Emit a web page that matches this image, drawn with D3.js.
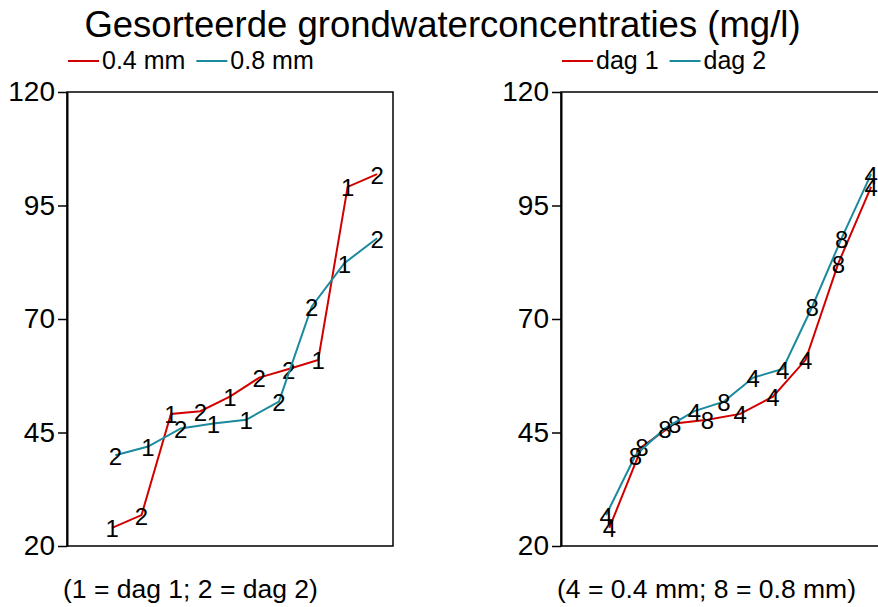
<!DOCTYPE html>
<html>
<head>
<meta charset="utf-8">
<script src="https://cdn.jsdelivr.net/npm/d3@7"></script>
<style>
  body { margin: 0; background: #fff; }
  svg { display: block; font-family: "Liberation Sans", Arial, sans-serif; }
</style>
</head>
<body>
<svg id="chart" width="878" height="607"></svg>
<script>
// sorted concentrations per sieve size, with the day of each sample
const mm04Values = [24.0, 26.8, 49.1, 49.7, 52.9, 57.1, 59.0, 61.0, 99.1, 101.9];
const mm04Days   = [1, 2, 1, 2, 1, 2, 2, 1, 1, 2];
const mm08Values = [40.0, 41.9, 45.9, 47.0, 47.8, 51.8, 72.7, 82.3, 87.8];
const mm08Days   = [2, 1, 2, 1, 1, 2, 2, 1, 2];
const yTicks = [20, 45, 70, 95, 120];

const RED = "#d10000", TEAL = "#1a8a9e";

// right panel: same samples grouped by day, labelled by sieve size
const samples = mm04Values.map((v, i) => ({ v, day: mm04Days[i], mm: 4 }))
  .concat(mm08Values.map((v, i) => ({ v, day: mm08Days[i], mm: 8 })));
const byDay = d => samples.filter(s => s.day === d).sort((a, b) => a.v - b.v);

const leftSeries = [
  { color: RED,  pts: mm04Values.map((v, i) => ({ v, lab: mm04Days[i] })) },
  { color: TEAL, pts: mm08Values.map((v, i) => ({ v, lab: mm08Days[i] })) }
];
const rightSeries = [
  { color: RED,  pts: byDay(1).map(s => ({ v: s.v, lab: s.mm })) },
  { color: TEAL, pts: byDay(2).map(s => ({ v: s.v, lab: s.mm })) }
];

const svg = d3.select("#chart");
const panelTop = 92, panelBottom = 546, pw = 326;

svg.append("text")
  .attr("x", 442.5).attr("y", 37)
  .attr("text-anchor", "middle")
  .attr("font-size", 36.5)
  .text("Gesorteerde grondwaterconcentraties (mg/l)");

function drawPanel(left, series, legend, caption) {
  var x = d3.scaleLinear().domain([-0.053, 1.054]).range([left, left + pw]);
  var y = d3.scaleLinear().domain([20, 120]).range([panelBottom, panelTop]);

  var g = svg.append("g");

  // legend
  var lx = left + 1;
  legend.forEach(function(item) {
    g.append("line")
      .attr("x1", lx).attr("x2", lx + 31)
      .attr("y1", 61).attr("y2", 61)
      .attr("stroke", item.color).attr("stroke-width", 2);
    var t = g.append("text")
      .attr("x", lx + 34).attr("y", 69)
      .attr("font-size", 25)
      .text(item.name);
    lx += 34 + t.node().getComputedTextLength() + 11;
  });

  // box
  g.append("rect")
    .attr("x", left).attr("y", panelTop)
    .attr("width", pw).attr("height", panelBottom - panelTop)
    .attr("fill", "none").attr("stroke", "#000").attr("stroke-width", 1.5);

  var ax = g.append("g")
    .attr("transform", "translate(" + left + ",0)")
    .call(d3.axisLeft(y).tickValues(yTicks).tickSize(9).tickPadding(3).tickSizeOuter(0));
  ax.select(".domain").attr("stroke-width", 2);
  ax.selectAll(".tick line").attr("stroke-width", 1.5);
  ax.selectAll(".tick text")
    .attr("font-size", 28)
    .attr("font-family", "Liberation Sans, Arial, sans-serif")
    .attr("fill", "#000");

  var line = d3.line()
    .x(function(d, i, arr) { return x((i + 1) / arr.length); })
    .y(function(d) { return y(d.v); });

  series.forEach(function(s) {
    var n = s.pts.length;
    g.append("path")
      .datum(s.pts)
      .attr("fill", "none")
      .attr("stroke", s.color)
      .attr("stroke-width", 2)
      .attr("d", line);
    g.selectAll(null)
      .data(s.pts)
      .enter().append("text")
        .attr("x", function(d, i) { return x((i + 1) / n); })
        .attr("y", function(d) { return y(d.v); })
        .attr("dy", "0.4em")
        .attr("text-anchor", "middle")
        .attr("font-size", 24)
        .text(function(d) { return d.lab; });
  });

  g.append("text")
    .attr("x", left - 4).attr("y", 598)
    .attr("font-size", 26.5)
    .text(caption);
}

drawPanel(67, leftSeries,
  [{ name: "0.4 mm", color: RED }, { name: "0.8 mm", color: TEAL }],
  "(1 = dag 1; 2 = dag 2)");
drawPanel(561, rightSeries,
  [{ name: "dag 1", color: RED }, { name: "dag 2", color: TEAL }],
  "(4 = 0.4 mm; 8 = 0.8 mm)");
</script>
</body>
</html>
